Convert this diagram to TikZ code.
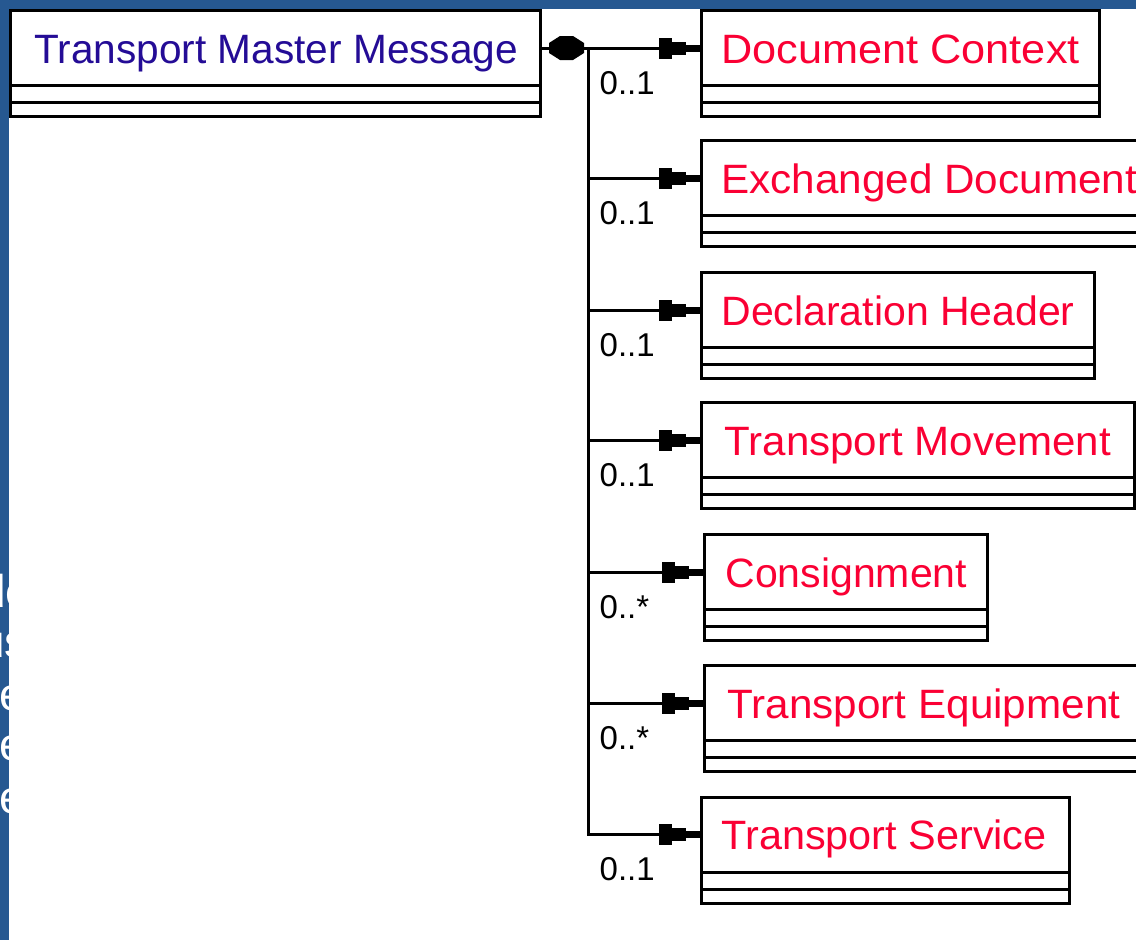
\documentclass[tikz,border=0pt]{standalone}
\usepackage{fontspec}
\usepackage{graphicx}
\setmainfont{Liberation Sans}
\usetikzlibrary{calc,decorations.markings}
\definecolor{slideblue}{RGB}{38,88,145}
\definecolor{msgnavy}{RGB}{36,12,150}
\definecolor{clsred}{RGB}{250,0,52}
\newcommand{\clsfont}{\fontsize{41}{49}\selectfont}
\newcommand{\multfont}{\fontsize{33}{40}\selectfont}
\newcommand{\slidefont}{\fontsize{46}{55}\selectfont}
% #1 name, #2 top-left, #3 text box width, #4 colour, #5 horizontal scale, #6 text
\newcommand{\umlclass}[6]{%
  \node[clsbox, text=#4] (#1) at #2 {\makebox[#3][l]{\scalebox{#5}[1]{#6}}};
  \draw[cmp] (#1.south west) rectangle ($(#1.south east)+(0,31)$);
  \draw[cmp] ($(#1.south west)+(0,17)$) -- ($(#1.south east)+(0,17)$);
}
\tikzset{
  clsbox/.style={draw=black, line width=3pt, outer sep=0pt, anchor=north west,
    minimum height=75pt, inner xsep=20pt, inner ysep=0pt, text height=30pt,
    text depth=0pt, font=\clsfont, fill=white},
  cmp/.style={draw=black, line width=3pt},
  conn/.style={draw=black, line width=3pt, line cap=rect},
  blocktip/.style={postaction={decorate}, decoration={markings,
    mark=at position 1 with {
      \fill[black] (-43,-10.5) rectangle (-30,10.5);
      \fill[black] (-30,-6.5) rectangle (-16,6.5);
      \fill[black] (-16,-3.5) rectangle (0,3.5);}}},
  diamondstart/.style={postaction={decorate}, decoration={markings,
    mark=at position 0 with {
      \fill[black] (8.5,-5) -- (19.5,-12) -- (32.5,-12) -- (43.5,-5)
        -- (43.5,5) -- (32.5,12) -- (19.5,12) -- (8.5,5) -- cycle;}}},
  mult/.style={font=\multfont, anchor=base west, inner sep=0pt, text=black},
  slidetext/.style={font=\slidefont, anchor=base west, inner sep=0pt, text=white}
}
\begin{document}
\begin{tikzpicture}[x=1pt,y=-1pt]
\useasboundingbox (0,0) rectangle (1136,940);
\clip (0,0) rectangle (1136,940);
\fill[slideblue] (0,0) rectangle (1136,940);
\begin{scope}
  \clip (0,9) rectangle (9,940);
  \node[slidetext] (s1) at (-20,607) {de};
  \node[slidetext] (s2) at (-21,657) {us};
  \node[slidetext] (s3) at (-1,710) {e};
  \node[slidetext] (s4) at (-1,760) {e};
  \node[slidetext] (s5) at (-1,813) {e};
\end{scope}
\fill[white] (9,9) rectangle (1136,940);

\umlclass{tmm}{(10.5,10.5)}{490pt}{msgnavy}{1}{\hspace{4pt}\scalebox{0.99}[1]{Transport Master Message}}
\umlclass{dc}{(701.5,10.5)}{358pt}{clsred}{1.055}{Document Context}
\umlclass{ed}{(701.5,140.5)}{440pt}{clsred}{1.03}{Exchanged Document}
\umlclass{dh}{(701.5,272.5)}{352.5pt}{clsred}{1}{Declaration Header}
\umlclass{tm}{(701.5,402.5)}{392.5pt}{clsred}{1.026}{\hspace{3pt}Transport Movement}
\umlclass{co}{(704.5,534.5)}{243pt}{clsred}{1}{\hspace{1pt}Consignment}
\umlclass{te}{(704.5,665.5)}{440pt}{clsred}{1.03}{\hspace{3pt}Transport Equipment}
\umlclass{ts}{(701.5,797)}{328pt}{clsred}{1.01}{Transport Service}

\coordinate (busx) at (588.5,0);
\coordinate (j1) at (busx |- dc.west);
\coordinate (j2) at (busx |- ed.west);
\coordinate (j3) at (busx |- dh.west);
\coordinate (j4) at (busx |- tm.west);
\coordinate (j5) at (busx |- co.west);
\coordinate (j6) at (busx |- te.west);
\coordinate (j7) at (busx |- ts.west);

\draw[conn, diamondstart] (tmm.east) -- (j1);
\draw[conn] (j1) -- (j7);
\draw[conn, blocktip] (j1) -- (dc.west);
\draw[conn, blocktip] (j2) -- (ed.west);
\draw[conn, blocktip] (j3) -- (dh.west);
\draw[conn, blocktip] (j4) -- (tm.west);
\draw[conn, blocktip] (j5) -- (co.west);
\draw[conn, blocktip] (j6) -- (te.west);
\draw[conn, blocktip] (j7) -- (ts.west);

\node[mult] (m1) at ($(j1)+(11,46)$) {0..1};
\node[mult] (m2) at ($(j2)+(11,46)$) {0..1};
\node[mult] (m3) at ($(j3)+(11,46)$) {0..1};
\node[mult] (m4) at ($(j4)+(11,46)$) {0..1};
\node[mult] (m5) at ($(j5)+(11,46)$) {0..*};
\node[mult] (m6) at ($(j6)+(11,46)$) {0..*};
\node[mult] (m7) at ($(j7)+(11,46)$) {0..1};
\end{tikzpicture}
\end{document}
